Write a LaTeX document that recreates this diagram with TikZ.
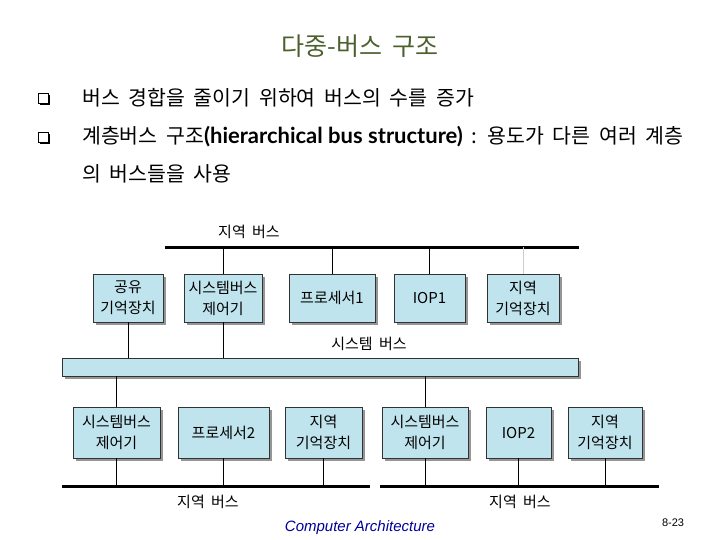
\documentclass[tikz,border=0pt]{standalone}
\usepackage{fontspec}
\setmainfont{Noto Sans CJK KR}[WordSpace=1.9]
\newfontfamily\latinbold{Lato}
\newfontfamily\footfont{Liberation Sans}
\usetikzlibrary{positioning,shadows,calc}
\definecolor{boxblue}{RGB}{192,228,238}
\definecolor{boxedge}{RGB}{50,50,50}
\definecolor{shadegray}{RGB}{150,150,150}
\definecolor{ttlgreen}{RGB}{76,96,46}
\definecolor{footblue}{RGB}{0,0,150}
\tikzset{
  blk/.style={draw=boxedge, fill=boxblue, align=center, inner sep=0pt,
              minimum height=48pt, font=\fontsize{15}{21}\selectfont,
              drop shadow={shadow xshift=3pt, shadow yshift=-3pt, fill=shadegray, opacity=1}},
  busln/.style={line width=3pt, black},
  tap/.style={black, line width=0.8pt},
  blab/.style={font=\fontsize{15}{18}\selectfont},
  bul/.style={draw=black, fill=white, minimum size=10pt, inner sep=0pt, line width=0.8pt,
              drop shadow={shadow xshift=1.8pt, shadow yshift=-1.8pt, fill=black, opacity=1}},
  txt/.style={anchor=west, inner sep=0pt, font=\fontsize{20.5}{24}\selectfont},
}

\begin{document}
\begin{tikzpicture}[x=1pt, y=-1pt]
  \useasboundingbox (0,0) rectangle (720,540);
  % header
  \node[font=\fontsize{25}{28}\selectfont, text=ttlgreen] (ttl) at (360,46) {다중-버스 구조};
  \node[bul] (b1) at (43,98) {};
  \node[bul] (b2) at (43,137) {};
  \node[txt] (l1) at (82,98) {버스 경합을 줄이기 위하여 버스의 수를 증가};
  \node[txt] (l2) at (82,137) {계층버스 구조{\latinbold\bfseries\fontsize{22}{24}\selectfont(hierarchical bus structure)} : 용도가 다른 여러 계층};
  \node[txt] (l3) at (82,174) {의 버스들을 사용};

  % top row
  \node[blk, minimum width=70pt] (shmem) at (128,298) {공유\\기억장치};
  \node[blk, minimum width=78pt] (sbc1) at (223,298) {시스템버스\\제어기};
  \node[blk, minimum width=86pt] (cpu1) at (332,298) {프로세서1};
  \node[blk, minimum width=71pt] (iop1) at (429.5,298) {IOP1};
  \node[blk, minimum width=72pt] (lmem1) at (523,298) {지역\\기억장치};

  % system bus
  \node[blk, minimum width=516pt, minimum height=18pt] (sysbus) at (320,367) {};
  \node[blab] (sysl) at (369,344) {시스템 버스};

  % bottom row
  \node[blk, minimum width=87pt, minimum height=51pt] (sbc2) at (116.5,432.5) {시스템버스\\제어기};
  \node[blk, minimum width=91pt, minimum height=51pt] (cpu2) at (223.5,432.5) {프로세서2};
  \node[blk, minimum width=77pt, minimum height=51pt] (lmem2) at (323.5,432.5) {지역\\기억장치};
  \node[blk, minimum width=86pt, minimum height=51pt] (sbc3) at (425,432.5) {시스템버스\\제어기};
  \node[blk, minimum width=65pt, minimum height=51pt] (iop2) at (518.5,432.5) {IOP2};
  \node[blk, minimum width=74pt, minimum height=51pt] (lmem3) at (605,432.5) {지역\\기억장치};

  % local buses
  \coordinate (tbl) at (165,247);
  \coordinate (tbr) at (579,247);
  \coordinate (lbl) at (62,486);
  \coordinate (lbr) at (370,486);
  \coordinate (rbl) at (380,486);
  \coordinate (rbr) at (659,486);
  \draw[busln] (tbl) -- (tbr);
  \draw[busln] (lbl) -- (lbr);
  \draw[busln] (rbl) -- (rbr);
  \node[blab] (tbus) at (249,232) {지역 버스};
  \node[blab] (lbus1) at (208,502) {지역 버스};
  \node[blab] (lbus2) at (520,502) {지역 버스};

  % taps
  \draw[tap] (sbc1.north) -- (sbc1.north |- tbl);
  \draw[tap] (cpu1.north) -- (cpu1.north |- tbl);
  \draw[tap] (iop1.north) -- (iop1.north |- tbl);
  \draw[tap, gray!40] (lmem1.north) -- (lmem1.north |- tbl);
  \draw[tap] (shmem.south) -- (shmem.south |- sysbus.north);
  \draw[tap] (sbc1.south) -- (sbc1.south |- sysbus.north);
  \draw[tap] (sbc2.north) -- (sbc2.north |- sysbus.south);
  \draw[tap] (sbc3.north) -- (sbc3.north |- sysbus.south);
  \foreach \b in {sbc2,cpu2,lmem2}
    \draw[tap] (\b.south) -- (\b.south |- lbl);
  \foreach \b in {sbc3,iop2,lmem3}
    \draw[tap] (\b.south) -- (\b.south |- rbl);

  % footer
  \node[font=\footfont\itshape\fontsize{15}{17}\selectfont, text=footblue] (foot) at (360,528) {Computer Architecture};
  \node[font=\footfont\fontsize{11}{13}\selectfont] (pg) at (673,523) {8-23};
\end{tikzpicture}
\end{document}
